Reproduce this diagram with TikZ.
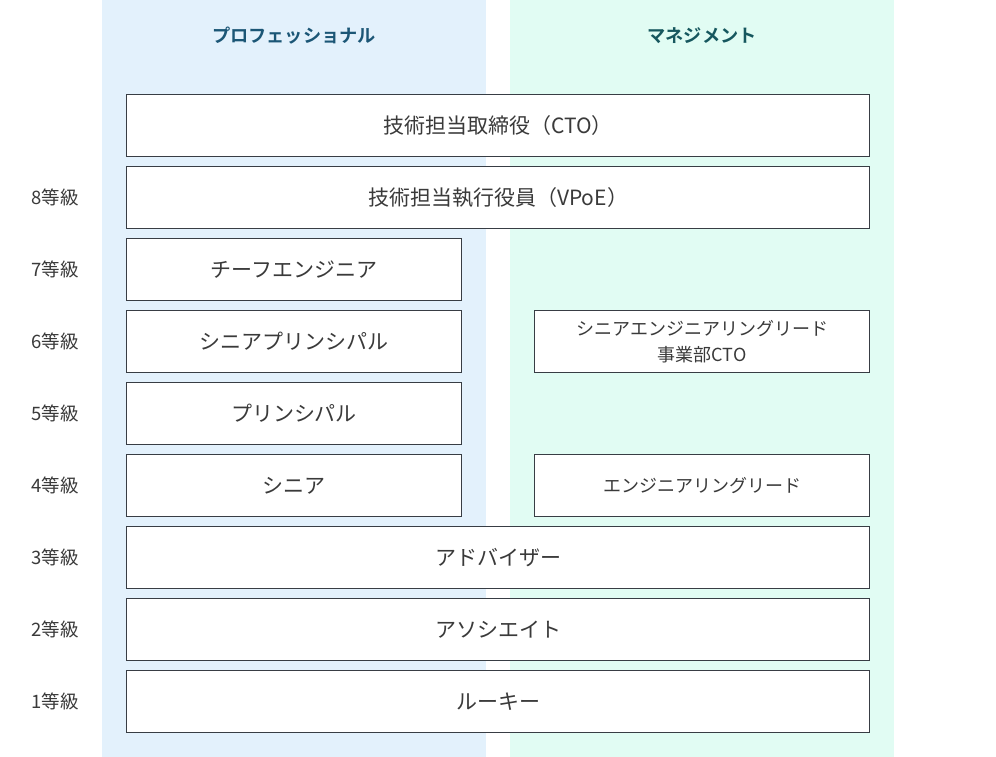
\documentclass[tikz,border=0pt]{standalone}
\usepackage{fontspec}
\setmainfont{Noto Sans CJK JP}
\newfontfamily\jpbold{Noto Sans CJK JP Bold}
\definecolor{bluebg}{HTML}{E3F1FC}
\definecolor{greenbg}{HTML}{E1FCF3}
\definecolor{hdblue}{HTML}{1B5676}
\definecolor{hdgreen}{HTML}{16575E}
\definecolor{boxline}{HTML}{383D44}
\definecolor{txt}{HTML}{3A3A3A}
\tikzset{
  x=1pt,y=-1pt,
  rolebox/.style={draw=boxline,line width=1.2pt,fill=white,text=txt,anchor=north west,inner sep=0pt,align=center,font=\fontsize{21}{25}\selectfont},
  smallrole/.style={rolebox,font=\fontsize{18}{26}\selectfont},
  gradelabel/.style={text=txt,font=\fontsize{18.5}{22}\selectfont},
  header/.style={font=\jpbold\fontsize{18.2}{22}\selectfont}
}
\begin{document}
\begin{tikzpicture}
\useasboundingbox (0,0) rectangle (996,757);
\fill[bluebg] (102,0) rectangle (486,757);
\fill[greenbg] (510,0) rectangle (894,757);
\node[header,text=hdblue] (hprof) at (294,36) {プロフェッショナル};
\node[header,text=hdgreen] (hmgmt) at (702,36) {マネジメント};
% role boxes
\node[rolebox,minimum width=743pt,minimum height=62pt] (cto) at (126,94) {技術担当取締役（CTO）};
\node[rolebox,minimum width=743pt,minimum height=62pt] (vpoe) at (126,166) {技術担当執行役員（VPoE）};
\node[rolebox,minimum width=335pt,minimum height=62pt] (chief) at (126,238) {チーフエンジニア};
\node[rolebox,minimum width=335pt,minimum height=62pt] (sprin) at (126,310) {シニアプリンシパル};
\node[rolebox,minimum width=335pt,minimum height=62pt] (prin) at (126,382) {プリンシパル};
\node[rolebox,minimum width=335pt,minimum height=62pt] (senior) at (126,454) {シニア};
\node[smallrole,minimum width=335pt,minimum height=62pt] (self) at (534,310) {シニアエンジニアリングリード\\事業部CTO};
\node[smallrole,minimum width=335pt,minimum height=62pt] (elead) at (534,454) {エンジニアリングリード};
\node[rolebox,minimum width=743pt,minimum height=62pt] (adv) at (126,526) {アドバイザー};
\node[rolebox,minimum width=743pt,minimum height=62pt] (assoc) at (126,598) {アソシエイト};
\node[rolebox,minimum width=743pt,minimum height=62pt] (rookie) at (126,670) {ルーキー};
% grade labels
\node[gradelabel] (g8) at (55,197) {8等級};
\node[gradelabel] (g7) at (55,269) {7等級};
\node[gradelabel] (g6) at (55,341) {6等級};
\node[gradelabel] (g5) at (55,413) {5等級};
\node[gradelabel] (g4) at (55,485) {4等級};
\node[gradelabel] (g3) at (55,557) {3等級};
\node[gradelabel] (g2) at (55,629) {2等級};
\node[gradelabel] (g1) at (55,701) {1等級};
\end{tikzpicture}
\end{document}
